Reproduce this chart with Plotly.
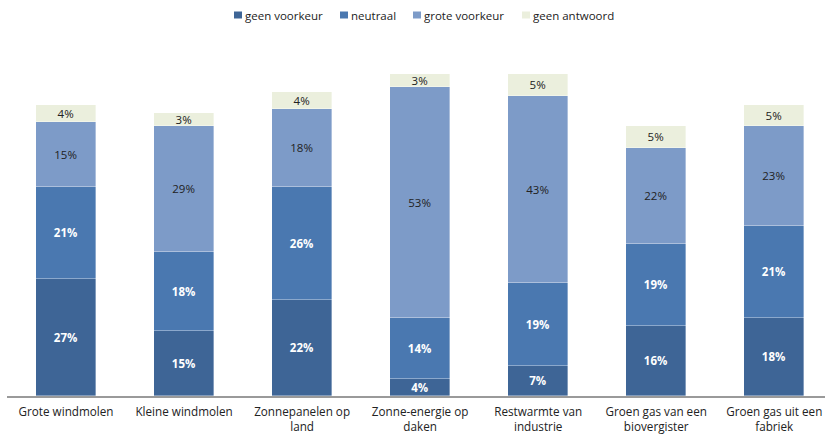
import plotly.graph_objects as go

categories = [
    "Grote windmolen",
    "Kleine windmolen",
    "Zonnepanelen op<br>land",
    "Zonne-energie op<br>daken",
    "Restwarmte van<br>industrie",
    "Groen gas van een<br>biovergister",
    "Groen gas uit een<br>fabriek",
]
series_names = ["geen voorkeur", "neutraal", "grote voorkeur", "geen antwoord"]
geen_voorkeur = [27, 15, 22, 4, 7, 16, 18]
neutraal = [21, 18, 26, 14, 19, 19, 21]
grote_voorkeur = [15, 29, 18, 53, 43, 22, 23]
geen_antwoord = [4, 3, 4, 3, 5, 5, 5]

series_values = [geen_voorkeur, neutraal, grote_voorkeur, geen_antwoord]
colors = ["#3E6596", "#4A78B0", "#7D9BC8", "#EBEFDD"]
text_colors = ["#FFFFFF", "#FFFFFF", "#222222", "#222222"]
text_bold = [True, True, False, False]

FONT = "Open Sans"

fig = go.Figure()
for name, vals, col, tcol, bold in zip(series_names, series_values, colors, text_colors, text_bold):
    fig.add_trace(go.Bar(
        x=list(range(len(categories))),
        y=vals,
        name=name,
        width=0.508,
        marker=dict(color=col, line=dict(color="rgba(255,255,255,0.45)", width=0.8)),
        text=[f"<b>{v}%</b>" if bold else f"{v}%" for v in vals],
        texttemplate="%{text}",
        textposition="inside",
        insidetextanchor="middle",
        constraintext="none",
        textfont=dict(family=FONT, size=11.5, color=tcol),
        showlegend=False,
        hoverinfo="skip",
    ))

# Legend drawn as squares + labels across the top
top_margin, bottom_margin = 50, 40
plot_left, plot_right = 7, 825
pw = plot_right - plot_left
ph = 436 - top_margin - bottom_margin
legend_sq_x = [234, 340, 413, 522]
ly = 1 + (top_margin - 15) / ph
for name, col, px in zip(series_names, colors, legend_sq_x):
    fig.add_shape(
        type="rect", xref="paper", yref="paper",
        x0=(px - plot_left) / pw, x1=(px + 8 - plot_left) / pw,
        y0=ly - 3.5 / ph, y1=ly + 3.5 / ph,
        line=dict(width=0), fillcolor=col,
    )
    fig.add_annotation(
        xref="paper", yref="paper", x=(px + 9 - plot_left) / pw, y=ly,
        text=name, showarrow=False, xanchor="left", yanchor="middle",
        font=dict(family=FONT, size=11.5, color="#222222"),
    )

fig.update_layout(
    barmode="stack",
    width=825,
    height=436,
    margin=dict(l=plot_left, r=0, t=top_margin, b=bottom_margin),
    paper_bgcolor="white",
    plot_bgcolor="white",
    font=dict(family=FONT, size=12, color="#222222"),
    bargap=0,
    xaxis=dict(
        range=[-0.5, 6.43],
        tickmode="array",
        tickvals=list(range(len(categories))),
        ticktext=categories,
        showline=True,
        linecolor="#9A9A9A",
        linewidth=1.5,
        ticks="",
        ticklabelstandoff=4,
        showgrid=False,
        zeroline=False,
        tickfont=dict(family=FONT, size=11.7, color="#222222"),
    ),
    yaxis=dict(
        range=[0, ph / 4.35],
        visible=False,
        showgrid=False,
        zeroline=False,
    ),
)

fig.write_html("out.html")
